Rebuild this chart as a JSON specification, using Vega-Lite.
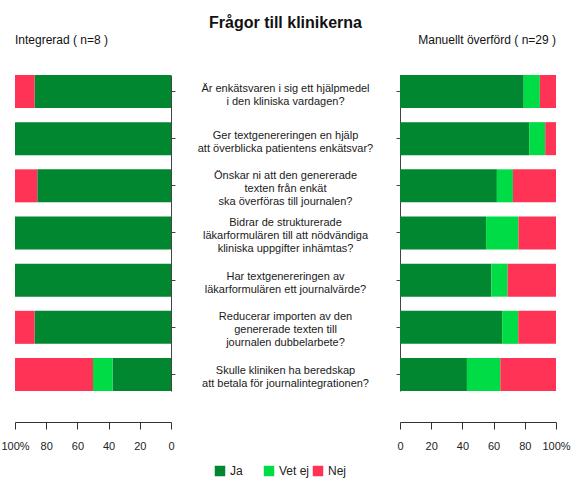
{
  "$schema": "https://vega.github.io/schema/vega-lite/v6.json",
  "padding": {"left": 0, "top": 15, "right": 2, "bottom": 5},
  "title": {"text": "Frågor till klinikerna", "fontSize": 16, "fontWeight": "bold", "anchor": "middle", "offset": 3, "color": "#111111"},
  "datasets": {
    "svar": [
      {"grupp": "Integrerad", "q": 1, "svar": "Ja", "ordning": 1, "andel": 87.5},
      {"grupp": "Integrerad", "q": 1, "svar": "Nej", "ordning": 3, "andel": 12.5},
      {"grupp": "Integrerad", "q": 2, "svar": "Ja", "ordning": 1, "andel": 100},
      {"grupp": "Integrerad", "q": 3, "svar": "Ja", "ordning": 1, "andel": 85.7},
      {"grupp": "Integrerad", "q": 3, "svar": "Nej", "ordning": 3, "andel": 14.3},
      {"grupp": "Integrerad", "q": 4, "svar": "Ja", "ordning": 1, "andel": 100},
      {"grupp": "Integrerad", "q": 5, "svar": "Ja", "ordning": 1, "andel": 100},
      {"grupp": "Integrerad", "q": 6, "svar": "Ja", "ordning": 1, "andel": 87.5},
      {"grupp": "Integrerad", "q": 6, "svar": "Nej", "ordning": 3, "andel": 12.5},
      {"grupp": "Integrerad", "q": 7, "svar": "Ja", "ordning": 1, "andel": 37.5},
      {"grupp": "Integrerad", "q": 7, "svar": "Vet ej", "ordning": 2, "andel": 12.5},
      {"grupp": "Integrerad", "q": 7, "svar": "Nej", "ordning": 3, "andel": 50},
      {"grupp": "Manuellt", "q": 1, "svar": "Ja", "ordning": 1, "andel": 79.3},
      {"grupp": "Manuellt", "q": 1, "svar": "Vet ej", "ordning": 2, "andel": 10.35},
      {"grupp": "Manuellt", "q": 1, "svar": "Nej", "ordning": 3, "andel": 10.35},
      {"grupp": "Manuellt", "q": 2, "svar": "Ja", "ordning": 1, "andel": 82.8},
      {"grupp": "Manuellt", "q": 2, "svar": "Vet ej", "ordning": 2, "andel": 10.3},
      {"grupp": "Manuellt", "q": 2, "svar": "Nej", "ordning": 3, "andel": 6.9},
      {"grupp": "Manuellt", "q": 3, "svar": "Ja", "ordning": 1, "andel": 62.1},
      {"grupp": "Manuellt", "q": 3, "svar": "Vet ej", "ordning": 2, "andel": 10.3},
      {"grupp": "Manuellt", "q": 3, "svar": "Nej", "ordning": 3, "andel": 27.6},
      {"grupp": "Manuellt", "q": 4, "svar": "Ja", "ordning": 1, "andel": 55.2},
      {"grupp": "Manuellt", "q": 4, "svar": "Vet ej", "ordning": 2, "andel": 20.7},
      {"grupp": "Manuellt", "q": 4, "svar": "Nej", "ordning": 3, "andel": 24.1},
      {"grupp": "Manuellt", "q": 5, "svar": "Ja", "ordning": 1, "andel": 58.6},
      {"grupp": "Manuellt", "q": 5, "svar": "Vet ej", "ordning": 2, "andel": 10.4},
      {"grupp": "Manuellt", "q": 5, "svar": "Nej", "ordning": 3, "andel": 31.0},
      {"grupp": "Manuellt", "q": 6, "svar": "Ja", "ordning": 1, "andel": 65.5},
      {"grupp": "Manuellt", "q": 6, "svar": "Vet ej", "ordning": 2, "andel": 10.3},
      {"grupp": "Manuellt", "q": 6, "svar": "Nej", "ordning": 3, "andel": 24.2},
      {"grupp": "Manuellt", "q": 7, "svar": "Ja", "ordning": 1, "andel": 42.9},
      {"grupp": "Manuellt", "q": 7, "svar": "Vet ej", "ordning": 2, "andel": 21.4},
      {"grupp": "Manuellt", "q": 7, "svar": "Nej", "ordning": 3, "andel": 35.7}
    ],
    "fragor": [
      {"q": 1, "fraga": "Är enkätsvaren i sig ett hjälpmedel\ni den kliniska vardagen?"},
      {"q": 2, "fraga": "Ger textgenereringen en hjälp\natt överblicka patientens enkätsvar?"},
      {"q": 3, "fraga": "Önskar ni att den genererade\ntexten från enkät\nska överföras till journalen?"},
      {"q": 4, "fraga": "Bidrar de strukturerade\nläkarformulären till att nödvändiga\nkliniska uppgifter inhämtas?"},
      {"q": 5, "fraga": "Har textgenereringen av\nläkarformulären ett journalvärde?"},
      {"q": 6, "fraga": "Reducerar importen av den\ngenererade texten till\njournalen dubbelarbete?"},
      {"q": 7, "fraga": "Skulle kliniken ha beredskap\natt betala för journalintegrationen?"}
    ]
  },
  "spacing": 0,
  "hconcat": [
    {
      "width": 156,
      "height": 316,
      "title": {"text": "Integrerad ( n=8 )", "anchor": "start", "frame": "group", "fontSize": 12, "fontWeight": "normal", "offset": 28, "color": "#111111"},
      "data": {"name": "svar"},
      "transform": [{"filter": "datum.grupp === 'Integrerad'"}],
      "mark": {"type": "bar"},
      "encoding": {
        "y": {"field": "q", "type": "ordinal", "scale": {"type": "band", "paddingInner": 0.3, "paddingOuter": 0},
              "axis": {"orient": "right", "labels": false, "title": null, "tickSize": 4, "domainColor": "#444444", "tickColor": "#444444"}},
        "x": {"field": "andel", "type": "quantitative", "stack": true, "scale": {"domain": [0, 100], "reverse": true},
              "axis": {"values": [0, 20, 40, 60, 80, 100], "labelExpr": "datum.value == 100 ? '100%' : datum.label", "labelOverlap": false, "labelFlush": false, "title": null, "grid": false, "offset": 31, "tickSize": 7, "labelPadding": 11, "labelFontSize": 11, "domainColor": "#333333", "tickColor": "#333333", "labelColor": "#222222"}},
        "color": {"field": "svar", "type": "nominal", "scale": {"domain": ["Ja", "Vet ej", "Nej"], "range": ["#00872F", "#00DC45", "#FF3355"]},
                  "legend": {"orient": "none", "legendX": 199, "legendY": 390, "direction": "horizontal", "title": null, "symbolType": "square", "symbolSize": 110, "symbolStrokeWidth": 0, "labelFontSize": 12, "labelColor": "#222222", "columnPadding": 2, "gridAlign": "all"}},
        "order": {"field": "ordning", "type": "quantitative"}
      }
    },
    {
      "width": 219,
      "height": 316,
      "data": {"name": "fragor"},
      "encoding": {
        "y": {"field": "q", "type": "ordinal", "scale": {"type": "band", "paddingInner": 0.3, "paddingOuter": 0}, "axis": null},
        "text": {"field": "fraga"}
      },
      "layer": [
        {
          "transform": [{"filter": "datum.q != 3 && datum.q != 4 && datum.q != 6"}],
          "mark": {"type": "text", "fontSize": 11, "lineHeight": 13, "lineBreak": "\n", "align": "center", "baseline": "middle", "dy": -3, "color": "#1a1a1a"}
        },
        {
          "transform": [{"filter": "datum.q == 3 || datum.q == 4 || datum.q == 6"}],
          "mark": {"type": "text", "fontSize": 11, "lineHeight": 13, "lineBreak": "\n", "align": "center", "baseline": "middle", "dy": -10, "color": "#1a1a1a"}
        }
      ]
    },
    {
      "width": 156,
      "height": 316,
      "title": {"text": "Manuellt överförd ( n=29 )", "anchor": "end", "frame": "group", "fontSize": 12, "fontWeight": "normal", "offset": 28, "color": "#111111"},
      "data": {"name": "svar"},
      "transform": [{"filter": "datum.grupp === 'Manuellt'"}],
      "mark": {"type": "bar"},
      "encoding": {
        "y": {"field": "q", "type": "ordinal", "scale": {"type": "band", "paddingInner": 0.3, "paddingOuter": 0},
              "axis": {"orient": "left", "labels": false, "title": null, "tickSize": 4, "domainColor": "#444444", "tickColor": "#444444"}},
        "x": {"field": "andel", "type": "quantitative", "stack": true, "scale": {"domain": [0, 100]},
              "axis": {"values": [0, 20, 40, 60, 80, 100], "labelExpr": "datum.value == 100 ? '100%' : datum.label", "labelOverlap": false, "labelFlush": false, "title": null, "grid": false, "offset": 31, "tickSize": 7, "labelPadding": 11, "labelFontSize": 11, "domainColor": "#333333", "tickColor": "#333333", "labelColor": "#222222"}},
        "color": {"field": "svar", "type": "nominal", "scale": {"domain": ["Ja", "Vet ej", "Nej"], "range": ["#00872F", "#00DC45", "#FF3355"]},
                  "legend": {"orient": "none", "legendX": 199, "legendY": 390, "direction": "horizontal", "title": null, "symbolType": "square", "symbolSize": 110, "symbolStrokeWidth": 0, "labelFontSize": 12, "labelColor": "#222222", "columnPadding": 2, "gridAlign": "all"}},
        "order": {"field": "ordning", "type": "quantitative"}
      }
    }
  ],
  "resolve": {"scale": {"x": "independent", "y": "independent", "color": "shared"}, "axis": {"x": "independent", "y": "independent"}, "legend": {"color": "shared"}},
  "config": {
    "font": "Liberation Sans",
    "view": {"stroke": null},
    "axis": {"labelFont": "Liberation Sans"},
    "legend": {"labelFont": "Liberation Sans"}
  }
}
